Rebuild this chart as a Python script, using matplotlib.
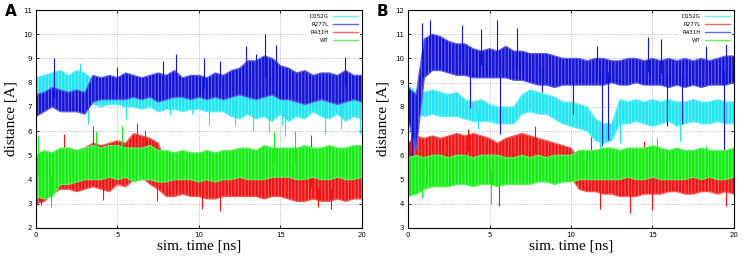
import numpy as np
import matplotlib
matplotlib.use("Agg")
import matplotlib.pyplot as plt
from matplotlib.colors import to_rgb

# time grid (ns), band edges sampled every 0.5 ns
t = np.linspace(0, 20, 41)

# ---------- Panel A ----------
A_D152G_hi = [8.2,8.3,8.4,8.5,8.3,8.5,8.4,8.1,8.0,8.1,8.0,8.1,8.0,8.1,8.0,8.1,8.0,8.1,8.0,8.0,8.0,7.9,8.0,7.9,8.0,8.1,8.2,8.2,8.1,8.1,8.0,8.0,8.0,8.1,8.0,8.0,8.1,8.0,8.1,8.0,7.9]
A_D152G_lo = [7.0,7.1,7.2,7.4,7.3,7.3,7.2,7.1,7.0,7.1,7.1,7.0,7.0,6.9,7.0,6.8,6.9,6.9,6.8,6.9,6.9,6.8,6.8,6.8,6.6,6.5,6.7,6.5,6.6,6.4,6.7,6.4,6.6,6.5,6.8,6.6,6.5,6.7,6.4,6.6,6.5]
A_R277L_hi = [7.5,7.6,7.8,7.7,7.6,7.7,7.6,8.3,8.2,8.3,8.2,8.4,8.3,8.2,8.3,8.4,8.3,8.5,8.2,8.3,8.3,8.2,8.4,8.3,8.5,8.6,8.9,8.9,9.1,9.0,8.7,8.6,8.4,8.5,8.3,8.4,8.4,8.3,8.5,8.3,8.3]
A_R277L_lo = [6.6,6.8,7.0,6.8,6.8,6.8,6.7,7.2,7.3,7.3,7.3,7.3,7.4,7.3,7.4,7.2,7.3,7.4,7.4,7.3,7.4,7.3,7.4,7.3,7.4,7.5,7.4,7.3,7.4,7.5,7.3,7.3,7.2,7.1,7.2,7.3,7.2,7.1,7.2,7.3,7.2]
A_R431H_hi = [4.2,4.3,4.9,5.2,5.3,5.2,5.3,5.5,5.4,5.5,5.6,5.5,5.9,5.8,5.7,5.5,4.6,4.4,4.3,4.3,4.2,4.3,4.2,4.2,4.2,4.3,4.2,4.4,4.3,4.2,4.3,4.2,4.1,4.2,4.2,4.1,4.2,4.1,4.1,4.2,4.1]
A_R431H_lo = [3.0,3.1,3.4,3.6,3.6,3.5,3.6,3.7,3.6,3.5,3.8,3.7,4.0,4.1,3.8,3.6,3.3,3.3,3.4,3.3,3.3,3.2,3.2,3.3,3.3,3.3,3.3,3.3,3.2,3.3,3.3,3.2,3.1,3.1,3.2,3.1,3.1,3.2,3.1,3.2,3.2]
A_WT_hi = [5.0,5.2,5.1,5.3,5.3,5.2,5.3,5.4,5.3,5.4,5.4,5.3,5.3,5.3,5.4,5.2,5.2,5.1,5.2,5.1,5.1,5.2,5.1,5.2,5.2,5.3,5.3,5.2,5.4,5.3,5.3,5.3,5.3,5.4,5.3,5.3,5.4,5.3,5.3,5.4,5.4]
A_WT_lo = [3.3,3.2,3.3,3.8,3.8,3.9,4.0,4.0,4.0,4.1,4.0,4.1,3.9,4.0,4.0,3.9,3.9,4.0,4.0,4.0,3.9,4.0,3.9,4.0,4.0,4.1,4.0,4.0,4.0,4.1,4.1,4.1,4.0,4.0,4.1,4.0,4.0,4.1,4.0,4.0,4.1]

A_D152G_spk_t = [2.7, 3.2, 5.5, 8.2, 9.6, 10.6, 12.2, 13.3, 14.3, 15.1, 15.3, 17.7, 18.7, 19.9]
A_D152G_spk_v = [8.8, 6.3, 6.5, 6.65, 6.7, 6.25, 6.2, 6.0, 5.95, 6.25, 5.8, 5.9, 6.1, 5.9]
A_R277L_spk_t = [1.1, 5.0, 7.8, 8.6, 10.3, 11.3, 12.9, 13.5, 14.05, 14.7, 18.95]
A_R277L_spk_v = [9.0, 8.66, 8.9, 9.2, 9.0, 8.9, 9.5, 9.2, 10.0, 9.55, 9.05]
A_R431H_spk_t = [0.3, 1.7, 3.5, 4.1, 6.2, 6.7, 7.4, 10.2, 11.3, 16.9, 17.3, 18.1]
A_R431H_spk_v = [2.95, 5.9, 6.2, 3.15, 6.33, 6.06, 3.1, 2.8, 2.7, 5.85, 2.85, 2.8]
A_WT_spk_t = [0.1, 0.9, 3.7, 5.3, 14.6, 15.9]
A_WT_spk_v = [5.8, 2.88, 6.0, 6.2, 5.95, 6.0]

# ---------- Panel B ----------
B_D152G_hi = [8.9,8.6,8.6,8.7,8.6,8.5,8.6,8.3,8.2,8.3,8.1,8.0,8.0,8.0,8.5,8.7,8.6,8.5,8.4,8.2,8.2,8.1,8.0,7.5,7.3,7.3,8.3,8.2,8.3,8.2,8.3,8.2,8.3,8.2,8.2,8.3,8.2,8.2,8.3,8.2,8.2]
B_D152G_lo = [8.2,7.7,7.6,7.7,7.6,7.6,7.6,7.5,7.4,7.4,7.4,7.3,7.3,7.3,7.7,7.8,7.7,7.7,7.5,7.3,7.2,7.1,7.0,6.6,6.5,6.6,7.3,7.3,7.4,7.3,7.2,7.3,7.4,7.2,7.3,7.4,7.3,7.3,7.4,7.3,7.3]
B_R277L_hi = [6.5,6.8,6.7,6.8,6.7,6.8,6.9,6.8,6.9,6.8,6.7,6.5,6.7,6.8,6.9,6.8,6.7,6.6,6.5,6.4,6.3,5.8,5.7,5.6,5.6,5.7,5.6,5.7,5.6,5.6,5.6,5.7,5.6,5.6,5.5,5.6,5.6,5.7,5.5,5.6,5.5]
B_R277L_lo = [5.2,5.4,5.4,5.5,5.4,5.5,5.4,5.5,5.5,5.4,5.5,5.3,5.4,5.5,5.5,5.4,5.5,5.4,5.4,5.3,5.1,4.6,4.5,4.5,4.4,4.4,4.3,4.3,4.3,4.4,4.4,4.4,4.5,4.5,4.4,4.4,4.5,4.5,4.4,4.5,4.4]
B_R431H_hi = [8.8,8.5,10.8,11.0,10.9,10.7,10.6,10.6,10.4,10.3,10.4,10.3,10.5,10.3,10.3,10.2,10.2,10.2,10.1,10.0,10.0,10.0,9.9,10.0,10.0,9.9,9.9,10.0,10.0,9.9,10.0,9.9,10.0,9.9,10.0,9.9,10.0,9.9,10.0,10.1,10.1]
B_R431H_lo = [7.5,6.2,9.2,9.5,9.5,9.4,9.3,9.3,9.2,9.2,9.2,9.2,9.2,9.1,9.1,9.0,8.9,8.9,8.8,8.9,8.9,8.9,8.9,8.9,8.9,9.0,8.9,8.9,9.0,8.9,8.9,8.9,8.8,8.9,8.8,8.9,8.8,8.9,8.9,8.9,9.0]
B_WT_hi = [5.9,6.0,5.9,6.0,6.0,5.9,6.0,6.0,5.9,6.0,6.0,6.0,5.9,5.9,6.0,5.9,6.0,5.9,6.0,6.0,6.0,6.2,6.2,6.2,6.3,6.3,6.2,6.3,6.3,6.3,6.4,6.3,6.2,6.3,6.2,6.2,6.3,6.2,6.2,6.2,6.3]
B_WT_lo = [4.3,4.4,4.6,4.7,4.7,4.7,4.8,4.8,4.7,4.8,4.8,4.7,4.8,4.8,4.8,4.8,4.9,4.9,4.8,4.9,4.9,5.0,5.0,5.0,5.0,5.0,5.0,5.1,5.0,5.0,5.1,5.0,5.0,5.0,5.0,5.1,5.0,5.1,5.0,5.0,5.1]

B_D152G_spk_t = [0.0, 4.3, 11.8, 13.0, 16.7]
B_D152G_spk_v = [9.1, 7.1, 6.1, 6.5, 6.6]
B_R277L_spk_t = [0.2, 3.7, 5.6, 6.8, 7.8, 11.2, 11.8, 13.6, 14.5, 15.0, 19.5]
B_R277L_spk_v = [7.0, 7.1, 3.9, 6.9, 7.2, 6.77, 3.8, 3.6, 6.6, 3.75, 3.9]
B_R431H_spk_t = [0.23, 0.84, 1.35, 3.3, 3.8, 4.5, 5.45, 5.65, 6.7, 8.2, 10.1, 11.6, 11.9, 12.3, 14.75, 15.5, 15.9, 16.8, 18.3, 19.4, 19.5]
B_R431H_spk_v = [5.6, 11.45, 11.6, 11.4, 7.95, 11.2, 11.6, 6.9, 11.25, 8.6, 7.7, 10.5, 6.4, 6.65, 10.9, 10.8, 7.2, 7.3, 10.5, 6.2, 10.65]
B_WT_spk_t = [0.0, 0.85, 5.1, 15.3, 18.3]
B_WT_spk_v = [4.0, 4.25, 4.0, 6.7, 6.4]

labels = ["D152G", "R277L", "R431H", "WT"]
CYAN, BLUE, RED, GREEN = "#20e6f0", "#1414d8", "#f01414", "#14ee14"

panels = [
    dict(tag="A", ylim=(2, 11), colors=[CYAN, BLUE, RED, GREEN],
         hi=[A_D152G_hi, A_R277L_hi, A_R431H_hi, A_WT_hi],
         lo=[A_D152G_lo, A_R277L_lo, A_R431H_lo, A_WT_lo],
         st=[A_D152G_spk_t, A_R277L_spk_t, A_R431H_spk_t, A_WT_spk_t],
         sv=[A_D152G_spk_v, A_R277L_spk_v, A_R431H_spk_v, A_WT_spk_v],
         left=36),
    dict(tag="B", ylim=(3, 12), colors=[CYAN, RED, BLUE, GREEN],
         hi=[B_D152G_hi, B_R277L_hi, B_R431H_hi, B_WT_hi],
         lo=[B_D152G_lo, B_R277L_lo, B_R431H_lo, B_WT_lo],
         st=[B_D152G_spk_t, B_R277L_spk_t, B_R431H_spk_t, B_WT_spk_t],
         sv=[B_D152G_spk_v, B_R277L_spk_v, B_R431H_spk_v, B_WT_spk_v],
         left=408),
]


def tint(c, f):
    r = np.array(to_rgb(c))
    return tuple(r + (1 - r) * f)


plt.rcParams["hatch.linewidth"] = 0.6

W, H = 743, 258
fig = plt.figure(figsize=(W / 100, H / 100), dpi=100)
serif = ["Liberation Serif", "DejaVu Serif"]

for p in panels:
    ax = fig.add_axes([p["left"] / W, 1 - 228 / H, 326 / W, 218 / H])
    handles = []
    for lab, c, hi, lo, st, sv in zip(labels, p["colors"], p["hi"], p["lo"], p["st"], p["sv"]):
        hi = np.asarray(hi); lo = np.asarray(lo)
        ax.fill_between(t, lo, hi, facecolor=c, edgecolor=tint(c, 0.45),
                        hatch="|||||", lw=0, zorder=2)
        ax.plot(t, hi, color=tint(c, 0.3), lw=0.9, zorder=2)
        ax.plot(t, lo, color=tint(c, 0.3), lw=0.9, zorder=2)
        mid = np.interp(st, t, (hi + lo) / 2)
        ax.vlines(st, mid, sv, color=c, lw=0.8, zorder=2)
        h, = ax.plot([], [], color=tint(c, 0.35), lw=1.0, label=lab)
        handles.append(h)
    ax.set_xlim(0, 20)
    ax.set_ylim(*p["ylim"])
    ax.set_xticks([0, 5, 10, 15, 20])
    ax.set_yticks(range(p["ylim"][0], p["ylim"][1] + 1))
    ax.grid(True, color="#aaaaaa", ls=(0, (1, 1.5)), lw=0.6, zorder=1)
    ax.set_axisbelow(True)
    ax.tick_params(direction="in", length=2.5, width=0.6, labelsize=5, pad=3,
                   right=True, top=True)
    for sp in ax.spines.values():
        sp.set_linewidth(0.8)
        sp.set_zorder(5)
    ax.set_xlabel("sim. time [ns]", family=serif, fontsize=11, labelpad=1)
    ax.set_ylabel("distance [A]", family=serif, fontsize=11, labelpad=4)
    leg = ax.legend(handles=handles, loc="upper right", frameon=True, fontsize=4,
                    markerfirst=False, handlelength=4.5, labelspacing=0.55,
                    borderaxespad=0.3, handletextpad=0.8, fancybox=False,
                    framealpha=1.0)
    leg.get_frame().set_edgecolor("none")
    leg.set_zorder(4)
    fig.text((p["left"] - 31) / W, 1 - 12 / H, p["tag"], fontsize=11,
             fontweight="bold", ha="left", va="center")

fig.savefig("out.png", dpi=100)
